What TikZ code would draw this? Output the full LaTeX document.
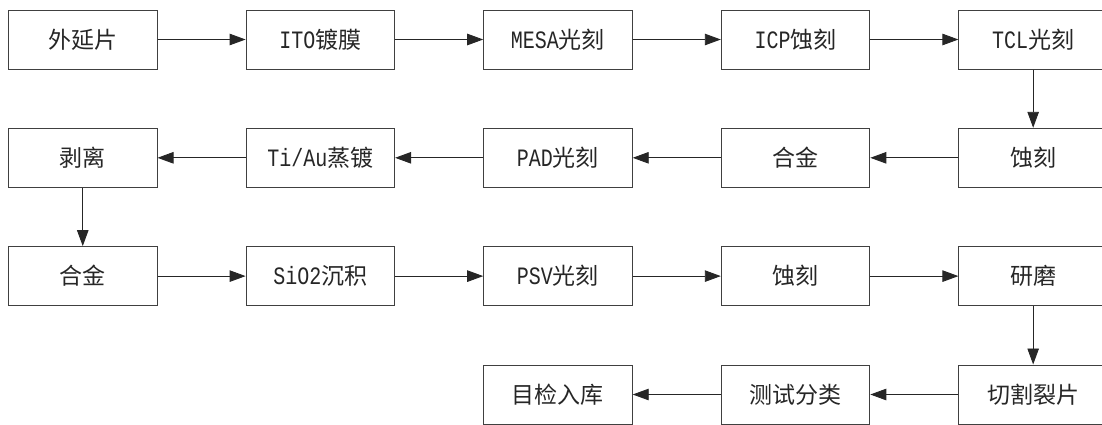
\documentclass[tikz,border=0pt]{standalone}
\usepackage{fontspec}
\usepackage{graphicx}
\setmainfont{Liberation Mono}
\newfontfamily\cjk{Noto Sans CJK SC}
\newcommand\lat[1]{\scalebox{0.8}[1]{\fontsize{25}{28}\selectfont #1}}
\usetikzlibrary{arrows.meta}
\tikzset{
  box/.style={draw=black!75, line width=1pt, minimum width=148.5pt, minimum height=59pt, inner sep=0pt, font=\fontsize{23}{26}\selectfont, text=black!85},
  flow/.style={draw=black!85, line width=0.9pt, -{Triangle[length=16pt,width=11.5pt]}}
}
\begin{document}
\begin{tikzpicture}[x=1pt,y=-1pt]
\useasboundingbox (0,0) rectangle (1102,424);
\def\ca{82.75}\def\cb{320.35}\def\cc{557.95}\def\cd{795.55}\def\ce{1033.15}
\def\ra{39.5}\def\rb{157.8}\def\rc{276.1}\def\rd{394.5}
% row 1
\node[box] (a1) at (\ca,\ra) {\cjk 外延片};
\node[box] (a2) at (\cb,\ra) {\lat{ITO}{\cjk 镀膜}};
\node[box] (a3) at (\cc,\ra) {\lat{MESA}{\cjk 光刻}};
\node[box] (a4) at (\cd,\ra) {\lat{ICP}{\cjk 蚀刻}};
\node[box] (a5) at (\ce,\ra) {\lat{TCL}{\cjk 光刻}};
% row 2
\node[box] (b1) at (\ca,\rb) {\cjk 剥离};
\node[box] (b2) at (\cb,\rb) {\lat{Ti/Au}{\cjk 蒸镀}};
\node[box] (b3) at (\cc,\rb) {\lat{PAD}{\cjk 光刻}};
\node[box] (b4) at (\cd,\rb) {\cjk 合金};
\node[box] (b5) at (\ce,\rb) {\cjk 蚀刻};
% row 3
\node[box] (c1) at (\ca,\rc) {\cjk 合金};
\node[box] (c2) at (\cb,\rc) {\lat{SiO2}{\cjk 沉积}};
\node[box] (c3) at (\cc,\rc) {\lat{PSV}{\cjk 光刻}};
\node[box] (c4) at (\cd,\rc) {\cjk 蚀刻};
\node[box] (c5) at (\ce,\rc) {\cjk 研磨};
% row 4
\node[box] (d3) at (\cc,\rd) {\cjk 目检入库};
\node[box] (d4) at (\cd,\rd) {\cjk 测试分类};
\node[box] (d5) at (\ce,\rd) {\cjk 切割裂片};
% arrows
\draw[flow] (a1) -- (a2);
\draw[flow] (a2) -- (a3);
\draw[flow] (a3) -- (a4);
\draw[flow] (a4) -- (a5);
\draw[flow] (a5) -- (b5);
\draw[flow] (b5) -- (b4);
\draw[flow] (b4) -- (b3);
\draw[flow] (b3) -- (b2);
\draw[flow] (b2) -- (b1);
\draw[flow] (b1) -- (c1);
\draw[flow] (c1) -- (c2);
\draw[flow] (c2) -- (c3);
\draw[flow] (c3) -- (c4);
\draw[flow] (c4) -- (c5);
\draw[flow] (c5) -- (d5);
\draw[flow] (d5) -- (d4);
\draw[flow] (d4) -- (d3);
\end{tikzpicture}
\end{document}
